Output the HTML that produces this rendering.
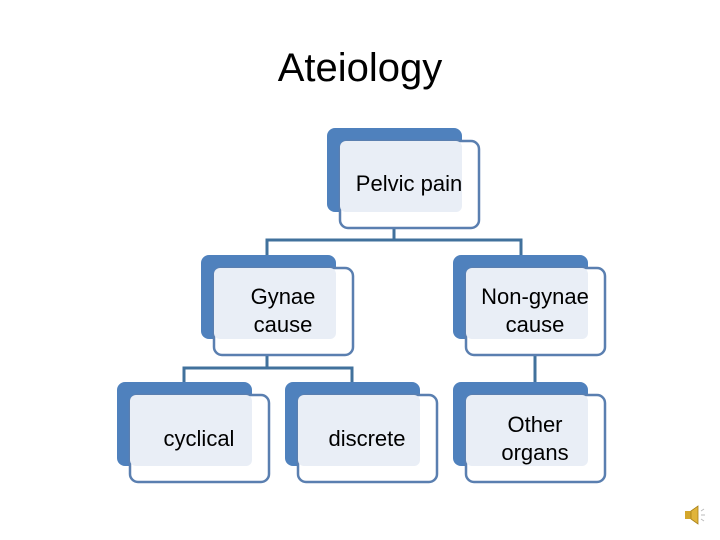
<!DOCTYPE html>
<html><head><meta charset="utf-8"><style>
html,body{margin:0;padding:0;background:#fff;}
svg{display:block;}
text{font-family:"Liberation Sans",sans-serif;fill:#000;}
</style></head><body>
<svg width="720" height="540" viewBox="0 0 720 540" xmlns="http://www.w3.org/2000/svg">
<text x="360" y="81" font-size="40" text-anchor="middle">Ateiology</text>
<g stroke="#41719c" stroke-width="3" fill="none">
<path d="M394 227V240M267 255V240H521V255"/>
<path d="M267 355V368M184 382V368H352V382"/>
<path d="M535 355V382"/>
</g>
<defs>
<g id="n">
<rect x="0" y="0" width="135" height="84" rx="8" fill="#4f81bd"/>
<rect x="13" y="13" width="139" height="87" rx="8" fill="#fff" stroke="#5a7fb0" stroke-width="2.5"/>
<rect x="13" y="13" width="122" height="71" rx="6" fill="#e9eef6"/>
</g>
</defs>
<use href="#n" x="327" y="128"/>
<use href="#n" x="201" y="255"/>
<use href="#n" x="453" y="255"/>
<use href="#n" x="117" y="382"/>
<use href="#n" x="285" y="382"/>
<use href="#n" x="453" y="382"/>
<g font-size="22" text-anchor="middle">
<text x="409" y="191">Pelvic pain</text>
<text x="283" y="304">Gynae</text>
<text x="283" y="332">cause</text>
<text x="535" y="304">Non-gynae</text>
<text x="535" y="332">cause</text>
<text x="199" y="446">cyclical</text>
<text x="367" y="446">discrete</text>
<text x="535" y="432">Other</text>
<text x="535" y="460">organs</text>
</g>
<g transform="translate(684,505)">
<rect x="1" y="6" width="6" height="8" fill="#d4a72c"/>
<path d="M7 6L14 1V19L7 14Z" fill="#e0b43a" stroke="#a8801a" stroke-width="0.8"/>
<path d="M17 6L20 4M17 10H21M17 14L20 16" stroke="#bbb" stroke-width="1"/>
</g>
</svg>
</body></html>
